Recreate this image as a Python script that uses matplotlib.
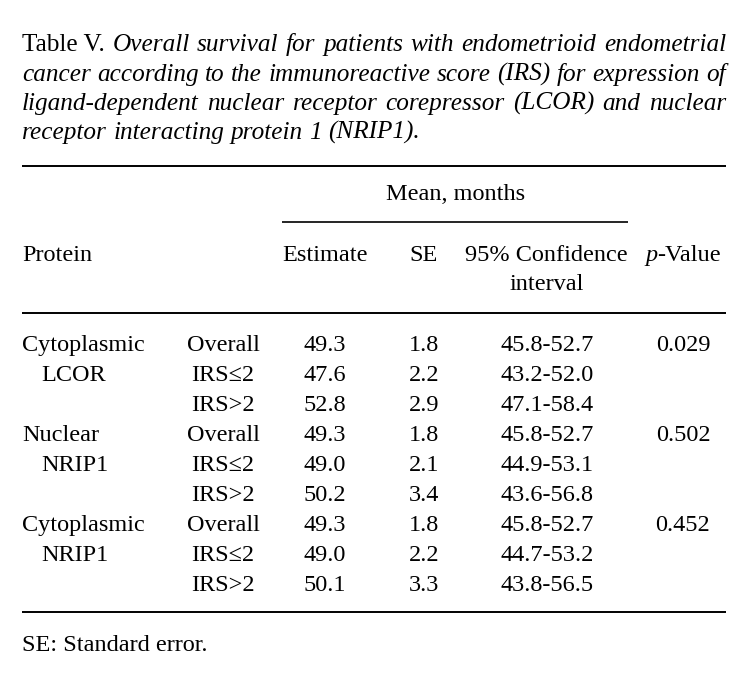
import matplotlib
matplotlib.use("Agg")
import matplotlib.pyplot as plt

# ---- data ----
protein_line1 = ["Cytoplasmic", "", "", "Nuclear", "", "", "Cytoplasmic", "", ""]
protein_line2 = ["", "LCOR", "", "", "NRIP1", "", "", "NRIP1", ""]
groups = ["Overall", "IRS\u22642", "IRS>2"] * 3
estimates = ["49.3", "47.6", "52.8", "49.3", "49.0", "50.2", "49.3", "49.0", "50.1"]
ses = ["1.8", "2.2", "2.9", "1.8", "2.1", "3.4", "1.8", "2.2", "3.3"]
cis = ["45.8-52.7", "43.2-52.0", "47.1-58.4", "45.8-52.7", "44.9-53.1",
       "43.6-56.8", "45.8-52.7", "44.7-53.2", "43.8-56.5"]
pvalues = ["0.029", "", "", "0.502", "", "", "0.452", "", ""]

title_lines = [
    [("Table V.", "normal")] + [(w, "italic") for w in
        "Overall survival for patients with endometrioid endometrial".split()],
    [(w, "italic") for w in
        "cancer according to the immunoreactive score (IRS) for expression of".split()],
    [(w, "italic") for w in
        "ligand-dependent nuclear receptor corepressor (LCOR) and nuclear".split()],
    [(w, "italic") for w in "receptor interacting protein 1 (NRIP1).".split()],
]
footnote = "SE: Standard error."

W, H = 755, 687
fig = plt.figure(figsize=(W / 100, H / 100), dpi=100)
ax = fig.add_axes([0, 0, 1, 1])
ax.set_xlim(0, W)
ax.set_ylim(H, 0)
ax.axis("off")

FONT = "Liberation Serif"
FS = 17.5
FS_T = 18.2
L, R = 22, 726
renderer = fig.canvas.get_renderer()

def width_of(s, style="normal", fs=FS):
    t = ax.text(0, 0, s, fontsize=fs, family=FONT, style=style)
    bb = t.get_window_extent(renderer)
    t.remove()
    return bb.width

def txt(x, y, s, ha="center", style="normal", fs=FS):
    ax.text(x, y, s, fontsize=fs, family=FONT, ha=ha, va="baseline", style=style)

# title (justified)
baselines = [51, 81, 110, 139]
space_w = width_of("a b", "italic", FS_T) - width_of("ab", "italic", FS_T)
for i, (line, yb) in enumerate(zip(title_lines, baselines)):
    widths = [width_of(w, s, FS_T) for w, s in line]
    if i < len(title_lines) - 1:
        gap = (R - L - sum(widths)) / (len(line) - 1)
    else:
        gap = space_w
    x = L
    for (w, s), wd in zip(line, widths):
        txt(x, yb, w, ha="left", style=s, fs=FS_T)
        x += wd + gap

def hline(y, x0=L, x1=R, lw=1.4):
    ax.plot([x0, x1], [y, y], color="black", lw=lw, solid_capstyle="butt")

hline(166)
txt(456, 200, "Mean, months")
hline(222, 282, 628, lw=1.2)

hdr_y = 261
txt(L, hdr_y, "Protein", ha="left")
txt(325, hdr_y, "Estimate")
txt(424, hdr_y, "SE")
txt(546, hdr_y, "95% Confidence")
txt(547, 290, "interval")
# p-Value: italic p followed by upright -Value, centered at 683
wp = width_of("p", "italic")
wv = width_of("-Value")
x0 = 683 - (wp + wv) / 2
txt(x0, hdr_y, "p", ha="left", style="italic")
txt(x0 + wp, hdr_y, "-Value", ha="left")
hline(313)

row_y0, row_dy = 351, 30
for i in range(len(groups)):
    y = row_y0 + i * row_dy
    if protein_line1[i]:
        txt(L, y, protein_line1[i], ha="left")
    if protein_line2[i]:
        txt(41, y, protein_line2[i], ha="left")
    txt(223, y, groups[i])
    txt(325, y, estimates[i])
    txt(424, y, ses[i])
    txt(547, y, cis[i])
    if pvalues[i]:
        txt(683, y, pvalues[i])

hline(612)
txt(L, 651, footnote, ha="left")

fig.savefig("out.png", dpi=100)
